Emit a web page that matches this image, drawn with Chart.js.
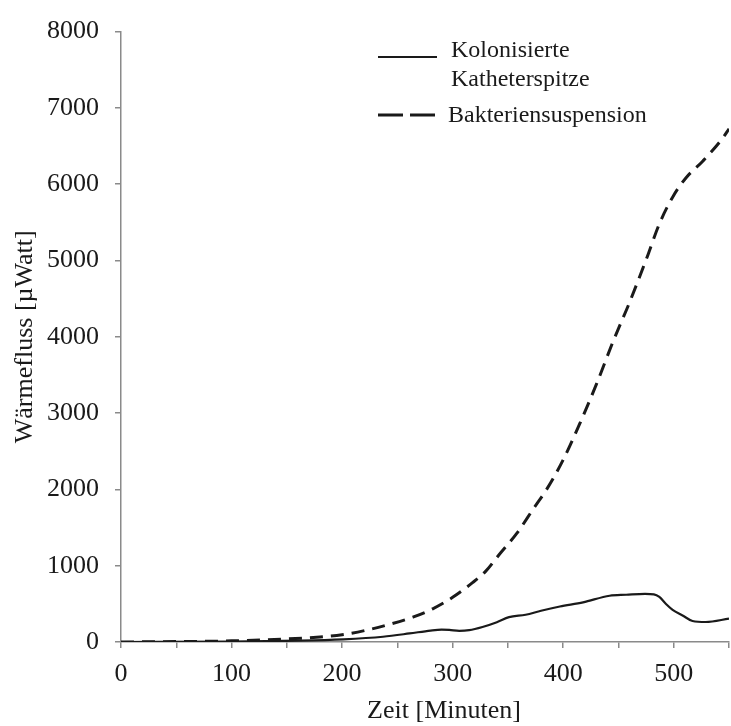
<!DOCTYPE html>
<html>
<head>
<meta charset="utf-8">
<title>Wärmefluss</title>
<script src="https://cdn.jsdelivr.net/npm/chart.js@4"></script>
<style>
  body { margin: 0; background: #fff; }
  #wrap { width: 731px; height: 726px; }
</style>
</head>
<body>
<div id="wrap"><canvas id="chart" width="731" height="726"></canvas></div>
<script>
// Werte (Zeit in Minuten, Wärmefluss in µWatt)
var katheterZeit = [0, 100, 162, 201, 237, 261, 280, 290, 297, 306, 315, 327, 340, 351, 366, 380, 397, 418, 442, 457, 474, 482, 487, 493, 499, 508, 517, 529, 550];
var katheterWerte = [0, 5, 17, 35, 69, 112, 150, 162, 158, 146, 155, 197, 260, 326, 357, 410, 465, 520, 606, 619, 632, 625, 590, 499, 422, 348, 275, 262, 306];

var suspensionZeit = [0, 50, 100, 150, 180, 200, 222, 243, 264, 282, 300, 318, 330, 342, 358, 373, 386, 400, 415, 430, 445, 460, 475, 487, 499, 511, 526, 544, 550];
var suspensionWerte = [0, 5, 15, 40, 65, 95, 155, 232, 326, 435, 585, 778, 929, 1144, 1423, 1746, 2023, 2388, 2861, 3376, 3934, 4450, 5009, 5480, 5830, 6082, 6298, 6598, 6727];

var serienNamen = ["Kolonisierte Katheterspitze", "Bakteriensuspension"];
var legendeZeilen = [["Kolonisierte", "Katheterspitze"], ["Bakteriensuspension"]];

var xTitel = "Zeit [Minuten]";
var yTitel = "Wärmefluss [µWatt]";

function punkte(xs, ys) {
  return xs.map(function(x, i) { return { x: x, y: ys[i] }; });
}

var schrift = '"Liberation Serif", "Times New Roman", serif';
var textFarbe = "#1a1a1a";
var achsFarbe = "#8a8a8a";

// Legende im Diagramm, wie im Original oben rechts, dazu der x-Achsentitel
// (im Original etwas rechts von der Mitte)
var innenLegende = {
  id: "innenLegende",
  afterDraw: function(chart) {
    var ctx = chart.ctx;
    ctx.save();
    ctx.font = "24px " + schrift;
    ctx.fillStyle = textFarbe;
    ctx.textBaseline = "alphabetic";
    var linieY = [57, 115];
    var textY = [57, 122];
    var textX = [451, 448];
    chart.data.datasets.forEach(function(ds, i) {
      ctx.beginPath();
      ctx.strokeStyle = ds.borderColor;
      ctx.lineWidth = ds.borderWidth;
      ctx.setLineDash(i === 0 ? [] : [25, 7]);
      ctx.moveTo(378, linieY[i]);
      ctx.lineTo(437, linieY[i]);
      ctx.stroke();
      legendeZeilen[i].forEach(function(zeile, j) {
        ctx.fillText(zeile, textX[i], textY[i] + j * 29);
      });
    });

    ctx.font = "26px " + schrift;
    ctx.textAlign = "center";
    ctx.textBaseline = "middle";
    ctx.fillText(xTitel, chart.chartArea.left + (chart.chartArea.width / 2) + 19, 711);
    ctx.restore();
  }
};

var ctx = document.getElementById("chart").getContext("2d");
var chart = new Chart(ctx, {
  type: "line",
  data: {
    datasets: [
      {
        label: serienNamen[0],
        data: punkte(katheterZeit, katheterWerte),
        borderColor: textFarbe,
        borderWidth: 2.2,
        pointRadius: 0,
        fill: false,
        cubicInterpolationMode: "monotone"
      },
      {
        label: serienNamen[1],
        data: punkte(suspensionZeit, suspensionWerte),
        borderColor: textFarbe,
        borderWidth: 3,
        borderDash: [13, 8],
        pointRadius: 0,
        fill: false,
        cubicInterpolationMode: "monotone"
      }
    ]
  },
  options: {
    responsive: false,
    animation: false,
    layout: { padding: { left: 6, top: 21, right: 2, bottom: 0 } },
    plugins: {
      legend: { display: false },
      tooltip: { enabled: false }
    },
    scales: {
      x: {
        type: "linear",
        min: 0,
        max: 550,
        afterFit: function(scale) {
          scale.height = 84;
          scale.paddingLeft = 0;
          scale.paddingRight = 0;
        },
        border: { color: achsFarbe, width: 1.5 },
        grid: { drawOnChartArea: false, color: achsFarbe, tickLength: 6, lineWidth: 1.5 },
        ticks: {
          stepSize: 50,
          padding: 11,
          color: textFarbe,
          font: { family: schrift, size: 26 },
          maxRotation: 0,
          autoSkip: false,
          callback: function(v) { return v % 100 === 0 ? String(v) : ""; }
        },
        title: { display: false }
      },
      y: {
        min: 0,
        max: 8000,
        afterFit: function(scale) { scale.width = 115; },
        border: { color: achsFarbe, width: 1.5 },
        grid: { drawOnChartArea: false, color: achsFarbe, tickLength: 6, lineWidth: 1.5 },
        ticks: {
          stepSize: 1000,
          padding: 16,
          color: textFarbe,
          font: { family: schrift, size: 26 },
          callback: function(v) { return String(v); }
        },
        title: {
          display: true,
          text: yTitel,
          color: textFarbe,
          font: { family: schrift, size: 26 },
          padding: { top: 4, bottom: 4 }
        }
      }
    }
  },
  plugins: [innenLegende]
});
</script>
</body>
</html>
